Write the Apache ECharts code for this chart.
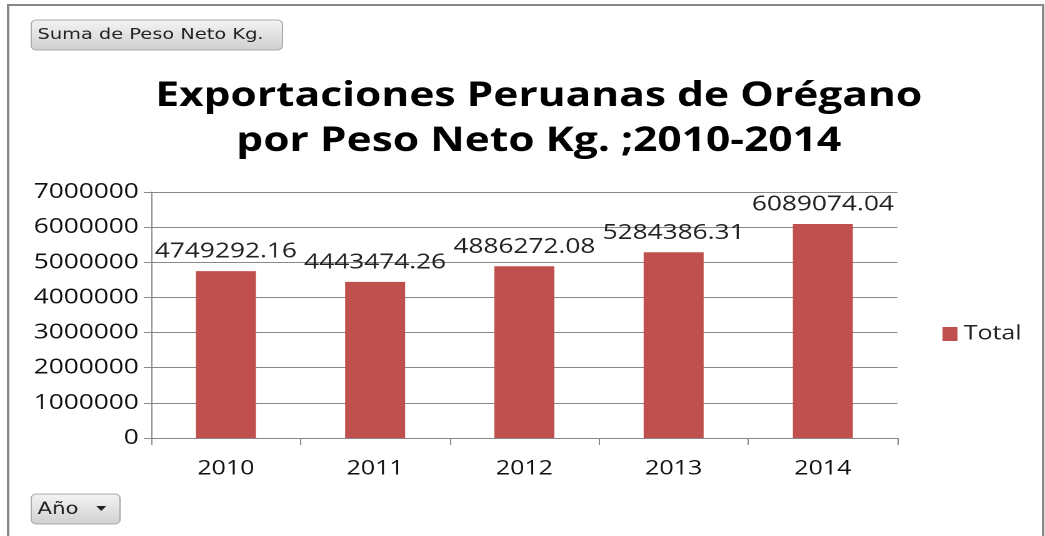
<!DOCTYPE html>
<html>
<head>
<meta charset="utf-8">
<script src="https://cdn.jsdelivr.net/npm/echarts@6/dist/echarts.min.js"></script>
<style>
  html, body { margin: 0; padding: 0; background: #fff; overflow: hidden; }
  /* el grafico original esta estirado en horizontal */
  #chart { width: 836px; height: 536px; transform: scaleX(1.25); transform-origin: 0 0; }
</style>
</head>
<body>
<div id="chart"></div>
<script>
// datos
var years = ['2010', '2011', '2012', '2013', '2014'];
var pesoNeto = [4749292.16, 4443474.26, 4886272.08, 5284386.31, 6089074.04];
var seriesName = 'Total';

var barColor = '#C0504D';
var btnFill = {
  type: 'linear', x: 0, y: 0, x2: 0, y2: 1,
  colorStops: [{offset: 0, color: '#f4f4f4'}, {offset: 1, color: '#d0d0d0'}]
};

var chart = echarts.init(document.getElementById('chart'), null, {devicePixelRatio: 2});
chart.setOption({
  animation: false,
  title: {
    text: 'Exportaciones Peruanas de Orégano\npor Peso Neto Kg. ;2010-2014',
    left: 426,
    top: 69,
    textAlign: 'center',
    textStyle: {
      fontFamily: 'Open Sans',
      fontWeight: 'bold',
      fontSize: 34,
      lineHeight: 45,
      color: '#000'
    }
  },
  legend: {
    data: [seriesName],
    icon: 'rect',
    left: 749,
    top: 319,
    itemWidth: 12,
    itemHeight: 14,
    itemGap: 6,
    textStyle: { fontFamily: 'Open Sans', fontSize: 20, color: '#222', padding: [0, 0, 0, 0] }
  },
  grid: { left: 121, right: 118, top: 192, bottom: 98 },
  xAxis: {
    type: 'category',
    data: years,
    axisLine: { lineStyle: { color: '#888' } },
    axisTick: { show: true, length: 7, lineStyle: { color: '#888' } },
    axisLabel: { fontFamily: 'Open Sans', fontSize: 20, color: '#111', margin: 21 }
  },
  yAxis: {
    type: 'value',
    min: 0,
    max: 7000000,
    interval: 1000000,
    axisLine: { show: true, lineStyle: { color: '#888' } },
    axisTick: { show: true, length: 6, lineStyle: { color: '#888' } },
    axisLabel: {
      fontFamily: 'Open Sans', fontSize: 21, color: '#111', margin: 10,
      formatter: function (v) { return String(v); }
    },
    splitLine: { lineStyle: { color: '#888' } }
  },
  series: [{
    name: seriesName,
    type: 'bar',
    data: pesoNeto,
    barWidth: 48,
    itemStyle: { color: barColor },
    label: {
      show: true,
      position: 'top',
      distance: 9,
      fontFamily: 'Open Sans',
      fontSize: 21,
      color: '#222'
    }
  }],
  graphic: [
    {
      type: 'rect',
      shape: { x: 6.5, y: 5, width: 828, height: 540 },
      style: { fill: 'none', stroke: '#888', lineWidth: 2 },
      silent: true
    },
    {
      type: 'rect',
      shape: { x: 25, y: 20, width: 201, height: 30, r: 4 },
      style: { fill: btnFill, stroke: '#aaa', lineWidth: 1 }
    },
    {
      type: 'text',
      left: 30, top: 27,
      style: { text: 'Suma de Peso Neto Kg.', font: '15.5px "DejaVu Sans"', fill: '#222' }
    },
    {
      type: 'rect',
      shape: { x: 25, y: 494, width: 71, height: 30, r: 4 },
      style: { fill: btnFill, stroke: '#aaa', lineWidth: 1 }
    },
    {
      type: 'text',
      left: 30, top: 501,
      style: { text: 'Año', font: '17px "DejaVu Sans"', fill: '#222' }
    },
    {
      type: 'polygon',
      shape: { points: [[77, 506], [85, 506], [81, 511]] },
      style: { fill: '#222' }
    }
  ]
});
</script>
</body>
</html>
